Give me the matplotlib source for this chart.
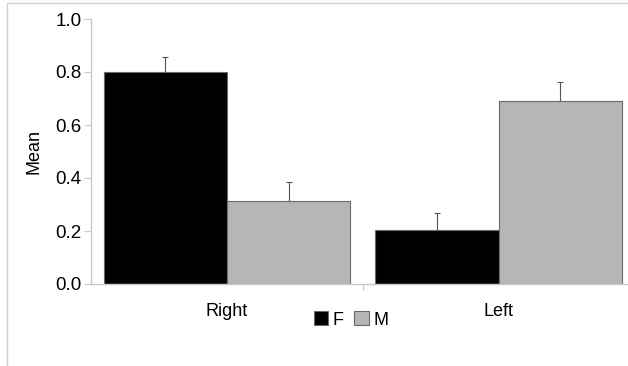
import matplotlib.pyplot as plt
import numpy as np
from matplotlib.patches import Rectangle

categories = ['Right', 'Left']
series = ['F', 'M']
f_means = [0.80, 0.205]
m_means = [0.312, 0.69]
f_err = [0.058, 0.063]
m_err = [0.072, 0.072]
colors = ['#000000', '#b6b6b6']
yticks = [0.0, 0.2, 0.4, 0.6, 0.8, 1.0]

plt.rcParams['font.family'] = ['Liberation Sans', 'DejaVu Sans']

fig = plt.figure(figsize=(6.28, 3.66), dpi=100)
ax = fig.add_axes([91 / 628, 1 - 284 / 366, (634.5 - 91) / 628, (284 - 19) / 366])

# gray frame around the figure (only top and left visible)
fig.patches.append(Rectangle((7 / 628, -0.1), 1.2, 1 - 3 / 366 + 0.1,
                             transform=fig.transFigure, fill=False,
                             edgecolor='#d0d0d0', linewidth=1))

x = np.arange(len(categories))
w = 0.454
for i, (vals, errs, c) in enumerate([(f_means, f_err, colors[0]), (m_means, m_err, colors[1])]):
    pos = x + (i - 0.5) * w
    ax.bar(pos, vals, width=w, color=c, edgecolor='#6a6a6a', linewidth=0.8,
           zorder=2, label=series[i])
    ax.errorbar(pos, vals, yerr=[np.zeros(len(vals)), errs], fmt='none',
                ecolor='#555555', elinewidth=0.8, capsize=2.5, capthick=0.8, zorder=1)

ax.set_xlim(-0.5, 1.5)
ax.set_ylim(0, 1.0)
ax.set_yticks(yticks)
ax.set_yticklabels([f'{t:.1f}' for t in yticks], fontsize=13.5)
ax.set_xticks([0.5])
ax.set_xticklabels([''])
ax.tick_params(axis='y', length=5, color='#c8c8c8', pad=2)
ax.tick_params(axis='x', length=4, color='#c8c8c8')
for s in ['top', 'right']:
    ax.spines[s].set_visible(False)
for s in ['left', 'bottom']:
    ax.spines[s].set_color('#c8c8c8')
    ax.spines[s].set_linewidth(1)
ax.set_ylabel('Mean', fontsize=13, labelpad=9)

for xi, cat in zip(x, categories):
    ax.text(xi, -0.07, cat, ha='center', va='top', fontsize=13,
            transform=ax.get_xaxis_transform())

ax.legend(loc='center', bbox_to_anchor=(351 / 628, 1 - 320 / 366),
          bbox_transform=fig.transFigure, ncol=2, frameon=False, fontsize=13,
          handlelength=0.8, handleheight=0.8, handletextpad=0.25, columnspacing=0.6,
          borderpad=0)

fig.savefig('out.png', dpi=100)
